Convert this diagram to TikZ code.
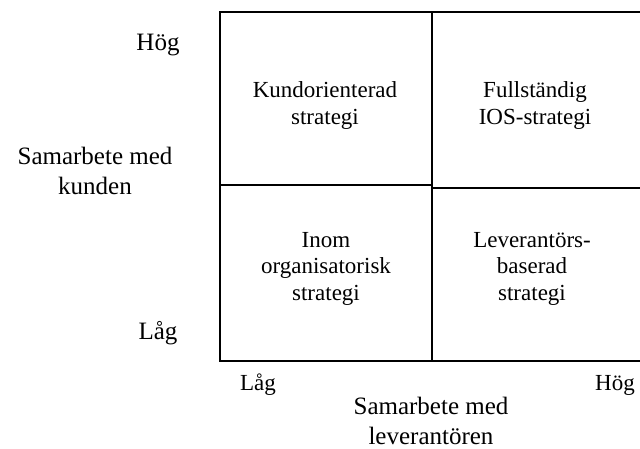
\documentclass[tikz,border=0pt]{standalone}
\usepackage{fontspec}
\setmainfont{Liberation Serif}
\begin{document}
\begin{tikzpicture}[x=1pt,y=-1pt,
  gridline/.style={line width=2pt,black},
  cell/.style={align=center,anchor=base,inner sep=0pt,
    font=\fontsize{23}{26.5}\selectfont},
  axislabel/.style={align=center,anchor=base,inner sep=0pt,
    font=\fontsize{25}{30}\selectfont}]
  \useasboundingbox (0,0) rectangle (640,448);
  \begin{scope}
    \clip (0,0) rectangle (640,448);
    % matrix frame and dividers
    \coordinate (tl) at (220,12);
    \coordinate (tr) at (660,12);
    \coordinate (bl) at (220,361);
    \coordinate (br) at (660,361);
    \coordinate (mt) at (432,12);
    \coordinate (mb) at (432,361);
    \coordinate (ml) at (220,185);
    \coordinate (mm) at (432,185);
    \coordinate (mm2) at (432,187.5);
    \coordinate (mr) at (660,187.5);
    \draw[gridline] (tr) -- (tl) -- (bl) -- (br);
    \draw[gridline] (mt) -- (mb);
    \draw[gridline] (ml) -- (mm);
    \draw[gridline] (mm2) -- (mr);
  \end{scope}
  % quadrant texts (anchored at the baseline of the last line)
  \node[cell] (q1) at (325,124) {Kundorienterad\\strategi};
  \node[cell] (q2) at (535,124) {Fullständig\\IOS-strategi};
  \node[cell] (q3) at (326,300) {Inom\\organisatorisk\\strategi};
  \node[cell] (q4) at (532,300) {Leverantörs-\\baserad\\strategi};
  % vertical axis
  \node[axislabel] (yhi) at (158,50) {Hög};
  \node[axislabel] (ylab) at (95,194) {Samarbete med\\kunden};
  \node[axislabel] (ylo) at (158,339) {Låg};
  % horizontal axis
  \node[cell] (xlo) at (258,390) {Låg};
  \node[cell] (xhi) at (615,390) {Hög};
  \node[axislabel] (xlab) at (431,444) {Samarbete med\\leverantören};
\end{tikzpicture}
\end{document}
